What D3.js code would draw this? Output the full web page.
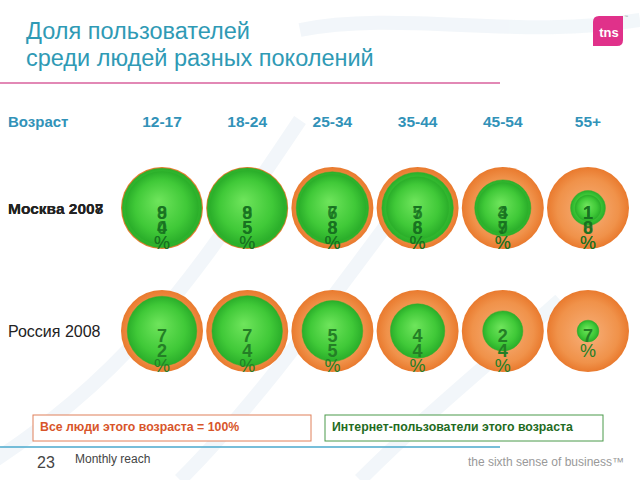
<!DOCTYPE html>
<meta charset="utf-8">
<style>

body {
  margin: 0;
  background: #fff;
}

svg {
  display: block;
  font-family: "Liberation Sans", Arial, sans-serif;
}

</style>
<svg width="640" height="480"></svg>
<script src="https://d3js.org/d3.v7.min.js"></script>
<script>

var ages = ["12-17", "18-24", "25-34", "35-44", "45-54", "55+"],
    moscow2007 = [80, 85, 68, 58, 39, 10],
    moscow2008 = [94, 95, 78, 76, 47, 18],
    russia2008 = [72, 74, 55, 44, 24, 7];

var rows = [
  {label: "Москва 2007", values: moscow2007, key: "m"},
  {label: "Москва 2008", values: moscow2008, key: "m"},
  {label: "Россия 2008", values: russia2008, key: "r"}
];

var svg = d3.select("svg"),
    width = +svg.attr("width"),
    height = +svg.attr("height");

var x = d3.scalePoint()
    .domain(ages)
    .range([162, 588]);

var y = d3.scalePoint()
    .domain(["m", "r"])
    .range([208, 331]);

var radius = d3.scaleSqrt()
    .domain([0, 100])
    .range([0, 41]);

var defs = svg.append("defs");

var orange = defs.append("radialGradient")
    .attr("id", "orange")
    .attr("cx", "50%").attr("cy", "50%").attr("r", "50%")
    .attr("fx", "50%").attr("fy", "55%");
orange.append("stop").attr("offset", "0%").attr("stop-color", "#f7b07a");
orange.append("stop").attr("offset", "75%").attr("stop-color", "#f0924a");
orange.append("stop").attr("offset", "100%").attr("stop-color", "#e97a2e");

var green = defs.append("radialGradient")
    .attr("id", "green")
    .attr("cx", "50%").attr("cy", "50%").attr("r", "50%")
    .attr("fx", "45%").attr("fy", "40%");
green.append("stop").attr("offset", "0%").attr("stop-color", "#6fe55c");
green.append("stop").attr("offset", "70%").attr("stop-color", "#40c938");
green.append("stop").attr("offset", "100%").attr("stop-color", "#2aae2a");

// faint background swooshes
var bg = svg.append("g")
    .attr("fill", "none")
    .attr("stroke", "#edf3f8")
    .attr("stroke-width", 14)
    .attr("opacity", 0.7);

bg.append("path").attr("d", "M-20,470 C120,380 180,300 300,120");
bg.append("path").attr("d", "M180,480 C260,400 330,300 420,180");
bg.append("path").attr("d", "M300,30 C400,10 520,40 640,20");
bg.append("path").attr("d", "M360,480 C420,420 470,380 560,300");

// title
var title = svg.append("text")
    .attr("fill", "#2f9ab5")
    .attr("font-size", 23.5);

title.append("tspan").attr("x", 26).attr("y", 39).text("Доля пользователей");
title.append("tspan").attr("x", 26).attr("y", 66).text("среди людей разных поколений");

svg.append("line")
    .attr("x1", 0).attr("x2", 500)
    .attr("y1", 83).attr("y2", 83)
    .attr("stroke", "#d9609c")
    .attr("stroke-width", 1.5);

// tns logo
var logo = svg.append("g")
    .attr("transform", "translate(593,16)");

logo.append("path")
    .attr("d", "M6,0 H30 V24 Q30,30 24,30 H0 V6 Q0,0 6,0 Z")
    .attr("fill", "#e0318a");

logo.append("text")
    .attr("x", 16)
    .attr("y", 21)
    .attr("text-anchor", "middle")
    .attr("fill", "#fff")
    .attr("font-size", 13)
    .attr("font-weight", "bold")
    .text("tns");

logo.append("text")
    .attr("x", 31)
    .attr("y", 2)
    .attr("fill", "#999")
    .attr("font-size", 4)
    .text("™");

// header row
svg.append("text")
    .attr("x", 8)
    .attr("y", 127)
    .attr("fill", "#3192b8")
    .attr("font-size", 15)
    .attr("font-weight", "bold")
    .text("Возраст");

svg.append("g")
  .selectAll("text")
  .data(ages)
  .enter().append("text")
    .attr("x", function(d) { return x(d); })
    .attr("y", 127)
    .attr("text-anchor", "middle")
    .attr("fill", "#3192b8")
    .attr("font-size", 15.5)
    .attr("font-weight", "bold")
    .text(function(d) { return d; });

// row labels
svg.append("g")
  .selectAll("text")
  .data(rows)
  .enter().append("text")
    .attr("x", 8)
    .attr("y", function(d) { return y(d.key) + 6; })
    .attr("fill", "#222")
    .attr("font-size", function(d) { return d.key == "m" ? 15.5 : 16; })
    .attr("font-weight", function(d) { return d.key == "m" ? "bold" : "normal"; })
    .text(function(d) { return d.label; });

// outer circles: all people = 100%
svg.append("g")
  .selectAll("circle")
  .data(d3.cross(["m", "r"], ages))
  .enter().append("circle")
    .attr("cx", function(d) { return x(d[1]); })
    .attr("cy", function(d) { return y(d[0]); })
    .attr("r", radius(100))
    .attr("fill", "url(#orange)");

// inner circles: internet users, bigger first
var cells = [];
rows.forEach(function(row) {
  row.values.forEach(function(v, i) {
    cells.push({key: row.key, age: ages[i], value: v});
  });
});
cells.sort(function(a, b) { return b.value - a.value; });

svg.append("g")
  .selectAll("circle")
  .data(cells)
  .enter().append("circle")
    .attr("cx", function(d) { return x(d.age); })
    .attr("cy", function(d) { return y(d.key); })
    .attr("r", function(d) { return radius(d.value); })
    .attr("fill", "url(#green)")
    .attr("stroke", "#2fae2a")
    .attr("stroke-width", 0.5);

// percentages, one character per line
var label = svg.append("g")
  .selectAll("text")
  .data(cells)
  .enter().append("text")
    .attr("text-anchor", "middle")
    .attr("fill", function(d) { return d.key == "m" ? "#177020" : "#247f26"; })
    .attr("fill-opacity", function(d) { return d.key == "m" ? 0.85 : 1; })
    .attr("font-size", 18)
    .attr("font-weight", "bold");

label.selectAll("tspan")
    .data(function(d) {
      return (d.value + "%").split("").map(function(c) { return {c: c, p: d}; });
    })
  .enter().append("tspan")
    .attr("x", function(d) { return x(d.p.age); })
    .attr("y", function(d, i) { return y(d.p.key) + 11 + i * 15; })
    .attr("font-weight", function(d) { return d.c == "%" ? "normal" : "bold"; })
    .text(function(d) { return d.c; });

// legend
var legend = [
  {text: "Все люди этого возраста = 100%", stroke: "#e0805a", fill: "#d8552a", x: 33},
  {text: "Интернет-пользователи этого возраста", stroke: "#4a9a4a", fill: "#1f6b22", x: 325}
];

var item = svg.append("g")
  .selectAll("g")
  .data(legend)
  .enter().append("g")
    .attr("transform", function(d) { return "translate(" + d.x + ",415)"; });

item.append("rect")
    .attr("width", 278)
    .attr("height", 26)
    .attr("fill", "#fff")
    .attr("stroke", function(d) { return d.stroke; });

item.append("text")
    .attr("x", 7)
    .attr("y", 16)
    .attr("fill", function(d) { return d.fill; })
    .attr("font-size", 12.3)
    .attr("font-weight", "bold")
    .text(function(d) { return d.text; });

// footer
svg.append("line")
    .attr("x1", 0).attr("x2", 500)
    .attr("y1", 447).attr("y2", 447)
    .attr("stroke", "#4aa8cc")
    .attr("stroke-width", 1.5);

svg.append("text")
    .attr("x", 37)
    .attr("y", 468)
    .attr("fill", "#444")
    .attr("font-size", 16)
    .text("23");

svg.append("text")
    .attr("x", 75)
    .attr("y", 463)
    .attr("fill", "#444")
    .attr("font-size", 12)
    .text("Monthly reach");

svg.append("text")
    .attr("x", 624)
    .attr("y", 466)
    .attr("text-anchor", "end")
    .attr("fill", "#999")
    .attr("font-size", 12)
    .text("the sixth sense of business™");

</script>
